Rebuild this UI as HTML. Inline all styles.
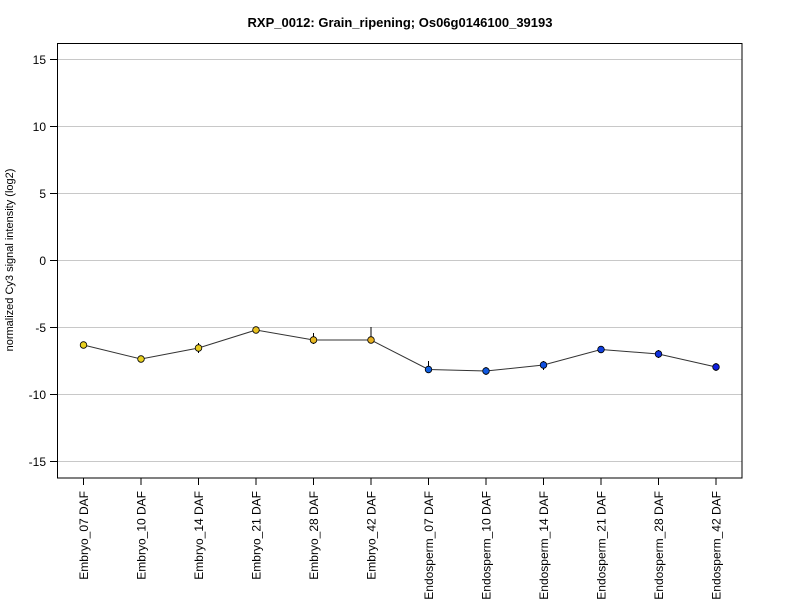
<!DOCTYPE html>
<html><head><meta charset="utf-8"><style>body{margin:0;background:#fff}svg{display:block}text{font-family:"Liberation Sans",Arial,sans-serif}</style></head>
<body>
<svg width="800" height="600" xmlns="http://www.w3.org/2000/svg">
<rect width="800" height="600" fill="#fff"/>
<text x="400" y="27" text-anchor="middle" font-size="13" font-weight="bold">RXP_0012: Grain_ripening; Os06g0146100_39193</text>
<g stroke="#c8c8c8" stroke-width="1">
<line x1="57" x2="742" y1="59.5" y2="59.5"/><line x1="57" x2="742" y1="126.5" y2="126.5"/><line x1="57" x2="742" y1="193.5" y2="193.5"/><line x1="57" x2="742" y1="260.5" y2="260.5"/><line x1="57" x2="742" y1="327.5" y2="327.5"/><line x1="57" x2="742" y1="394.5" y2="394.5"/><line x1="57" x2="742" y1="461.5" y2="461.5"/>
</g>
<rect x="57.5" y="43.5" width="684.5" height="434.5" fill="none" stroke="#000"/>
<g stroke="#000">
<line x1="50" x2="57" y1="59.5" y2="59.5"/><line x1="50" x2="57" y1="126.5" y2="126.5"/><line x1="50" x2="57" y1="193.5" y2="193.5"/><line x1="50" x2="57" y1="260.5" y2="260.5"/><line x1="50" x2="57" y1="327.5" y2="327.5"/><line x1="50" x2="57" y1="394.5" y2="394.5"/><line x1="50" x2="57" y1="461.5" y2="461.5"/>
</g>
<g font-size="12" text-anchor="end">
<text x="46" y="64">15</text><text x="46" y="131">10</text><text x="46" y="198">5</text><text x="46" y="265">0</text><text x="46" y="332">-5</text><text x="46" y="399">-10</text><text x="46" y="466">-15</text>
</g>
<text transform="translate(13,260) rotate(-90)" text-anchor="middle" font-size="11">normalized Cy3 signal intensity (log2)</text>
<g stroke="#000">
<line x1="83.5" x2="83.5" y1="478" y2="485"/><line x1="141" x2="141" y1="478" y2="485"/><line x1="198.5" x2="198.5" y1="478" y2="485"/><line x1="256" x2="256" y1="478" y2="485"/><line x1="313.5" x2="313.5" y1="478" y2="485"/><line x1="371" x2="371" y1="478" y2="485"/><line x1="428.5" x2="428.5" y1="478" y2="485"/><line x1="486" x2="486" y1="478" y2="485"/><line x1="543.5" x2="543.5" y1="478" y2="485"/><line x1="601" x2="601" y1="478" y2="485"/><line x1="658.5" x2="658.5" y1="478" y2="485"/><line x1="716" x2="716" y1="478" y2="485"/>
</g>
<g font-size="12" text-anchor="end">
<text transform="translate(88,491) rotate(-90)">Embryo_07 DAF</text>
<text transform="translate(145.5,491) rotate(-90)">Embryo_10 DAF</text>
<text transform="translate(203,491) rotate(-90)">Embryo_14 DAF</text>
<text transform="translate(260.5,491) rotate(-90)">Embryo_21 DAF</text>
<text transform="translate(318,491) rotate(-90)">Embryo_28 DAF</text>
<text transform="translate(375.5,491) rotate(-90)">Embryo_42 DAF</text>
<text transform="translate(433,491) rotate(-90)">Endosperm_07 DAF</text>
<text transform="translate(490.5,491) rotate(-90)">Endosperm_10 DAF</text>
<text transform="translate(548,491) rotate(-90)">Endosperm_14 DAF</text>
<text transform="translate(605.5,491) rotate(-90)">Endosperm_21 DAF</text>
<text transform="translate(663,491) rotate(-90)">Endosperm_28 DAF</text>
<text transform="translate(720.5,491) rotate(-90)">Endosperm_42 DAF</text>
</g>
<polyline fill="none" stroke="#333" stroke-width="1" points="83.5,345 141,359 198.5,348 256,330 313.5,340 371,340 428.5,369.5 486,371 543.5,365 601,349.5 658.5,354 716,367"/>
<g stroke="#000" stroke-width="1">
<line x1="83.5" x2="83.5" y1="342" y2="348"/><line x1="141" x2="141" y1="356" y2="362"/><line x1="198.5" x2="198.5" y1="343" y2="353"/><line x1="256" x2="256" y1="327" y2="333"/><line x1="313.5" x2="313.5" y1="333" y2="344"/><line x1="371" x2="371" y1="327" y2="343"/><line x1="428.5" x2="428.5" y1="361" y2="373"/><line x1="486" x2="486" y1="367" y2="375"/><line x1="543.5" x2="543.5" y1="361" y2="370"/><line x1="601" x2="601" y1="346" y2="353"/><line x1="658.5" x2="658.5" y1="350" y2="358"/><line x1="716" x2="716" y1="363" y2="371"/>
</g>
<g stroke="#000" stroke-width="0.8">
<circle cx="83.5" cy="345" r="3.3" fill="#e8d020"/>
<circle cx="141" cy="359" r="3.3" fill="#e8d020"/>
<circle cx="198.5" cy="348" r="3.3" fill="#e8cc20"/>
<circle cx="256" cy="330" r="3.3" fill="#e8c020"/>
<circle cx="313.5" cy="340" r="3.3" fill="#e8b820"/>
<circle cx="371" cy="340" r="3.3" fill="#e8b020"/>
<circle cx="428.5" cy="369.5" r="3.3" fill="#1060e0"/>
<circle cx="486" cy="371" r="3.3" fill="#1058e0"/>
<circle cx="543.5" cy="365" r="3.3" fill="#1050e0"/>
<circle cx="601" cy="349.5" r="3.3" fill="#1040e0"/>
<circle cx="658.5" cy="354" r="3.3" fill="#1030e0"/>
<circle cx="716" cy="367" r="3.3" fill="#1020e0"/>
</g>
</svg>
</body></html>
